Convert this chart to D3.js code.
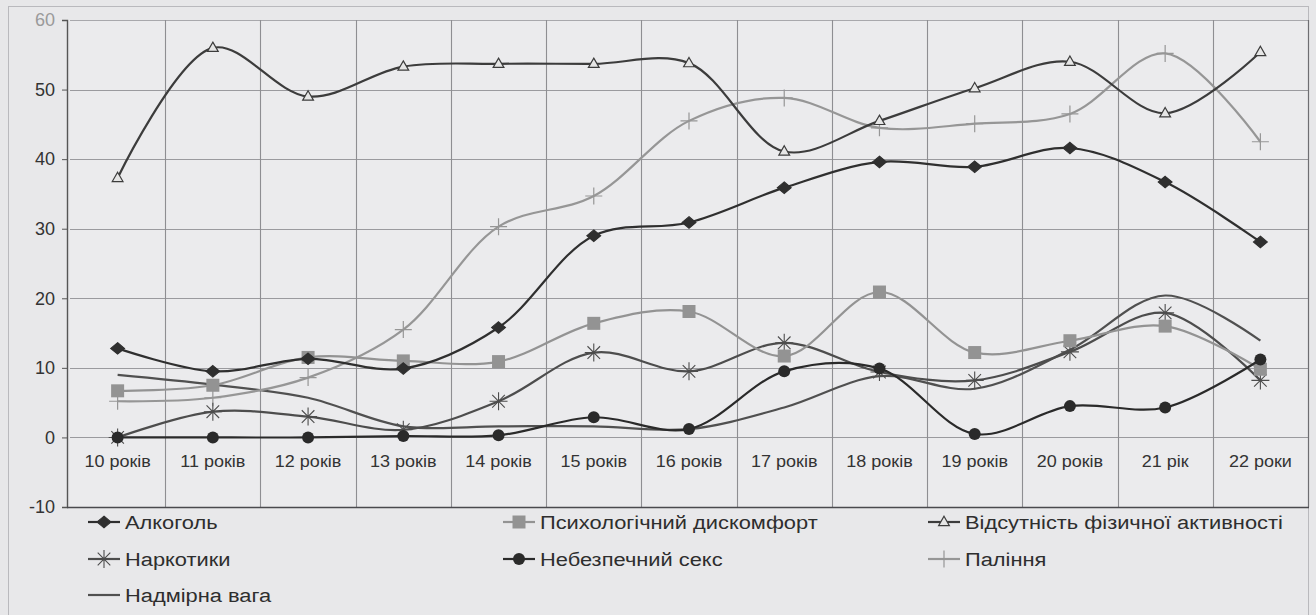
<!DOCTYPE html>
<html>
<head>
<meta charset="utf-8">
<script src="https://cdn.jsdelivr.net/npm/d3@7"></script>
<style>
  html, body { margin: 0; padding: 0; background: #e7e7e9; }
  svg { display: block; font-family: "Liberation Sans", Arial, sans-serif; }
</style>
</head>
<body>
<svg id="chart" width="1316" height="615"></svg>
<script>
// Age groups
const categories = ["10 років", "11 років", "12 років", "13 років", "14 років", "15 років",
  "16 років", "17 років", "18 років", "19 років", "20 років", "21 рік", "22 роки"];

// Share of respondents by risk factor, %
const alcohol    = [12.8, 9.5, 11.3, 9.9, 15.8, 29.0, 30.9, 35.9, 39.6, 38.9, 41.6, 36.7, 28.1];
const psychology = [6.7, 7.5, 11.5, 11.0, 10.9, 16.4, 18.1, 11.7, 20.9, 12.2, 13.9, 16.0, 9.8];
const inactivity = [37.3, 56.0, 49.0, 53.3, 53.7, 53.7, 53.8, 41.1, 45.5, 50.2, 54.0, 46.6, 55.4];
const drugs      = [0.0, 3.7, 3.0, 1.1, 5.2, 12.2, 9.5, 13.6, 9.4, 8.2, 12.3, 17.9, 8.2];
const unsafeSex  = [0.0, 0.0, 0.0, 0.2, 0.3, 2.9, 1.2, 9.5, 9.9, 0.5, 4.5, 4.3, 11.2];
const smoking    = [5.2, 5.7, 8.6, 15.5, 30.3, 34.7, 45.5, 48.8, 44.5, 45.1, 46.5, 55.2, 42.5];
const overweight = [9.0, 7.6, 5.7, 1.6, 1.6, 1.6, 1.2, 4.3, 8.8, 7.0, 12.6, 20.4, 13.9];

// Y axis ticks
const yTicks = [-10, 0, 10, 20, 30, 40, 50, 60];

const series = [
  { name: "Алкоголь", values: alcohol, color: "#2f2f2f", marker: "diamond" },
  { name: "Психологічний дискомфорт", values: psychology, color: "#939393", marker: "square" },
  { name: "Відсутність фізичної активності", values: inactivity, color: "#3c3c3c", marker: "triangle" },
  { name: "Наркотики", values: drugs, color: "#4d4d4d", marker: "asterisk" },
  { name: "Небезпечний секс", values: unsafeSex, color: "#2a2a2a", marker: "circle" },
  { name: "Паління", values: smoking, color: "#969696", marker: "plus" },
  { name: "Надмірна вага", values: overweight, color: "#505050", marker: "none" }
];

const svg = d3.select("#chart");
const plot = { left: 70, right: 1308, top: 20, bottom: 507 };

// outer chart frame
svg.append("rect")
  .attr("x", 8.5).attr("y", 6.5).attr("width", 1300).attr("height", 620)
  .attr("fill", "#e8e8ea").attr("stroke", "#b9b9bd").attr("stroke-width", 1);

const x = d3.scaleBand().domain(categories).range([plot.left, plot.right]);
const y = d3.scaleLinear().domain([-10, 60]).range([plot.bottom, plot.top]);
const cx = c => x(c) + x.bandwidth() / 2;

// plot background
svg.append("rect")
  .attr("x", plot.left).attr("y", plot.top)
  .attr("width", plot.right - plot.left).attr("height", plot.bottom - plot.top)
  .attr("fill", "#ebebed");

// horizontal gridlines
svg.append("g").selectAll("line").data(yTicks.filter(t => t > -10)).join("line")
  .attr("x1", plot.left).attr("x2", plot.right)
  .attr("y1", d => Math.round(y(d)) + 0.5).attr("y2", d => Math.round(y(d)) + 0.5)
  .attr("stroke", d => d === 60 ? "#a8a8ac" : "#9a9a9e").attr("stroke-width", 1.2);

// vertical gridlines between categories
svg.append("g").selectAll("line").data(categories.slice(1)).join("line")
  .attr("x1", d => Math.round(x(d)) + 0.5).attr("x2", d => Math.round(x(d)) + 0.5)
  .attr("y1", plot.top).attr("y2", plot.bottom)
  .attr("stroke", "#8e8e92").attr("stroke-width", 1.1);

// right border of the plot
svg.append("line")
  .attr("x1", plot.right + 0.5).attr("x2", plot.right + 0.5)
  .attr("y1", plot.top).attr("y2", plot.bottom)
  .attr("stroke", "#6e6e72").attr("stroke-width", 1.2);

// y axis
const yAxis = svg.append("g")
  .attr("transform", `translate(${plot.left - 3},0)`)
  .call(d3.axisLeft(y).tickValues(yTicks).tickFormat(d => String(d)).tickSize(5).tickPadding(7));
yAxis.select(".domain").attr("stroke", "#555").attr("stroke-width", 1.4);
yAxis.selectAll(".tick line").attr("stroke", "#555");
yAxis.selectAll(".tick text")
  .attr("font-size", 18).attr("font-family", "Liberation Sans, Arial, sans-serif")
  .attr("fill", d => d === 60 ? "#9a9a9a" : "#333");

// bottom border at -10
svg.append("line")
  .attr("x1", plot.left - 3).attr("x2", plot.right + 1)
  .attr("y1", plot.bottom + 0.5).attr("y2", plot.bottom + 0.5)
  .attr("stroke", "#4a4a4e").attr("stroke-width", 1.6);

// category labels sit just below the zero line, slightly wide type
svg.append("g").selectAll("text").data(categories).join("text")
  .attr("transform", d => `translate(${cx(d)},${y(0) + 30}) scale(1.06,1)`)
  .attr("text-anchor", "middle").attr("font-size", 17).attr("fill", "#333")
  .text(d => d);

// series lines
const line = d3.line()
  .x((d, i) => cx(categories[i]))
  .y(d => y(d))
  .curve(d3.curveCatmullRom.alpha(0.5));

function drawMarker(g, type, color, px, py) {
  if (type === "diamond") {
    g.append("path").attr("d", d3.symbol(d3.symbolDiamond2, 85)())
      .attr("transform", `translate(${px},${py}) scale(1.2,1)`)
      .attr("fill", color).attr("stroke", color);
  } else if (type === "square") {
    g.append("rect").attr("x", px - 6.5).attr("y", py - 6.5)
      .attr("width", 13).attr("height", 13).attr("fill", color);
  } else if (type === "triangle") {
    g.append("path").attr("d", d3.symbol(d3.symbolTriangle, 50)())
      .attr("transform", `translate(${px},${py + 0.5})`)
      .attr("fill", "#e6e6e6").attr("stroke", color).attr("stroke-width", 1.2);
  } else if (type === "asterisk") {
    const r = 9;
    const p = d3.path();
    p.moveTo(px - r, py); p.lineTo(px + r, py);
    p.moveTo(px, py - r); p.lineTo(px, py + r);
    p.moveTo(px - r * 0.7, py - r * 0.7); p.lineTo(px + r * 0.7, py + r * 0.7);
    p.moveTo(px - r * 0.7, py + r * 0.7); p.lineTo(px + r * 0.7, py - r * 0.7);
    g.append("path").attr("d", p.toString()).attr("stroke", color).attr("stroke-width", 1.1);
  } else if (type === "circle") {
    g.append("circle").attr("cx", px).attr("cy", py).attr("r", 6).attr("fill", color);
  } else if (type === "plus") {
    const r = 8.5;
    const p = d3.path();
    p.moveTo(px - r, py); p.lineTo(px + r, py);
    p.moveTo(px, py - r); p.lineTo(px, py + r);
    g.append("path").attr("d", p.toString()).attr("stroke", color).attr("stroke-width", 1.2);
  }
}

// draw so the dark series stay on top
const drawOrder = [6, 5, 3, 1, 2, 4, 0];
drawOrder.forEach(k => {
  const s = series[k];
  const g = svg.append("g");
  g.append("path").datum(s.values)
    .attr("d", line).attr("fill", "none")
    .attr("stroke", s.color).attr("stroke-width", 2.2);
  s.values.forEach((v, i) => drawMarker(g, s.marker, s.color, cx(categories[i]), y(v)));
});

// legend: three columns, three rows
const legendCols = [88, 503, 928];
const legendRows = [522, 559, 595];
const legend = svg.append("g");
series.forEach((s, i) => {
  const lx = legendCols[i % 3], ly = legendRows[Math.floor(i / 3)];
  const g = legend.append("g");
  g.append("line").attr("x1", lx).attr("x2", lx + 32).attr("y1", ly).attr("y2", ly)
    .attr("stroke", s.color).attr("stroke-width", 2.2);
  drawMarker(g, s.marker, s.color, lx + 16, ly);
  g.append("text")
    .attr("transform", `translate(${lx + 37},${ly + 7}) scale(1.15,1)`)
    .attr("font-size", 19).attr("fill", "#2e2e2e").text(s.name);
});
</script>
</body>
</html>
